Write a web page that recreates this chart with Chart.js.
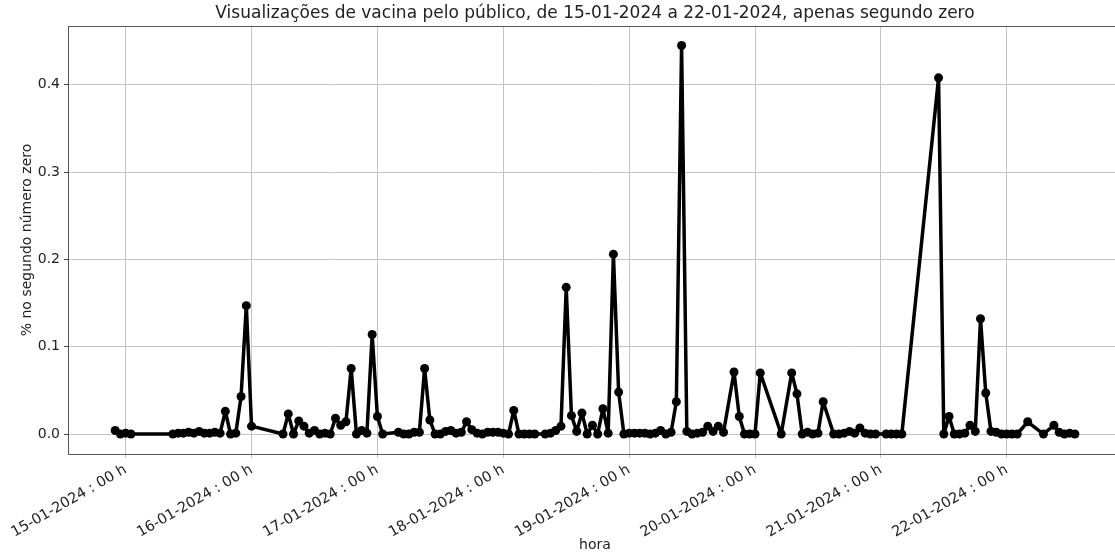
<!DOCTYPE html>
<html>
<head>
<meta charset="utf-8">
<script src="https://cdn.jsdelivr.net/npm/chart.js@4"></script>
<style>
  html, body { margin: 0; padding: 0; background: #fff; overflow: hidden; }
  #wrap { width: 1115px; height: 554px; overflow: hidden; }
</style>
</head>
<body>
<div id="wrap"><canvas id="grafico" width="1120" height="554"></canvas></div>
<script>
// horas contadas a partir de 15-01-2024 00h
const horas = [
  -2, -1, 0, 1,
  9, 10, 11, 12, 13, 14, 15, 16, 17, 18, 19, 20, 21, 22, 23, 24,
  30, 31, 32, 33, 34, 35, 36, 37, 38, 39, 40, 41, 42, 43, 44, 45, 46, 47, 48, 49,
  52, 53, 54, 55, 56, 57, 58, 59, 60, 61, 62, 63, 64, 65, 66, 67, 68, 69, 70, 71, 72, 73, 74, 75, 76, 77, 78,
  80, 81, 82, 83, 84, 85, 86, 87, 88, 89, 90, 91, 92, 93, 94, 95, 96, 97, 98, 99, 100, 101, 102, 103, 104, 105,
  106, 107, 108, 109, 110, 111, 112, 113, 114,
  116, 117, 118, 119, 120, 121,
  125, 127, 128, 129, 130, 131, 132, 133,
  135, 136, 137, 138, 139, 140, 141, 142, 143,
  145, 146, 147, 148,
  155, 156, 157, 158, 159, 160, 161, 162, 163, 164, 165, 166, 167, 168, 169, 170,
  172, 175, 177, 178, 179, 180, 181
];
const valores = [
  0.004, 0.000, 0.001, 0.000,
  0.000, 0.001, 0.001, 0.002, 0.001, 0.003, 0.001, 0.001, 0.002, 0.001, 0.026, 0.000, 0.001, 0.043, 0.147, 0.009,
  0.000, 0.023, 0.000, 0.015, 0.009, 0.001, 0.004, 0.000, 0.001, 0.000, 0.018, 0.010, 0.014, 0.075, 0.000, 0.004, 0.001, 0.114, 0.020, 0.000,
  0.002, 0.000, 0.000, 0.002, 0.002, 0.075, 0.016, 0.000, 0.000, 0.003, 0.004, 0.001, 0.002, 0.014, 0.005, 0.001, 0.000, 0.002, 0.002, 0.002, 0.001, 0.000, 0.027, 0.000, 0.000, 0.000, 0.000,
  0.000, 0.001, 0.004, 0.009, 0.168, 0.021, 0.003, 0.024, 0.000, 0.010, 0.000, 0.029, 0.001, 0.206, 0.048, 0.000, 0.001, 0.001, 0.001, 0.001, 0.000, 0.001, 0.004, 0.000, 0.002, 0.037,
  0.445, 0.003, 0.000, 0.001, 0.002, 0.009, 0.003, 0.009, 0.002,
  0.071, 0.020, 0.000, 0.000, 0.000, 0.070,
  0.000, 0.070, 0.046, 0.000, 0.002, 0.000, 0.001, 0.037,
  0.000, 0.000, 0.001, 0.003, 0.001, 0.007, 0.001, 0.000, 0.000,
  0.000, 0.000, 0.000, 0.000,
  0.408, 0.000, 0.020, 0.000, 0.000, 0.001, 0.010, 0.003, 0.132, 0.047, 0.003, 0.002, 0.000, 0.000, 0.000, 0.000,
  0.014, 0.000, 0.010, 0.002, 0.000, 0.001, 0.000
];

const ticksX = [0, 24, 48, 72, 96, 120, 144, 168];
const rotulosX = [
  "15-01-2024 : 00 h", "16-01-2024 : 00 h", "17-01-2024 : 00 h", "18-01-2024 : 00 h",
  "19-01-2024 : 00 h", "20-01-2024 : 00 h", "21-01-2024 : 00 h", "22-01-2024 : 00 h"
];
const ticksY = [0, 0.1, 0.2, 0.3, 0.4];

const titulo = "Visualizações de vacina pelo público, de 15-01-2024 a 22-01-2024, apenas segundo zero";
const tituloX = "hora";
const tituloY = "% no segundo número zero";

const fonte = "'DejaVu Sans', sans-serif";

// titulo, rotulos dos eixos e a borda de cima
const textos = {
  id: "textos",
  afterDraw(chart) {
    const { ctx, chartArea: a } = chart;
    ctx.save();
    ctx.strokeStyle = "#555";
    ctx.lineWidth = 1;
    ctx.beginPath();
    ctx.moveTo(a.left, a.top + 0.5);
    ctx.lineTo(a.right, a.top + 0.5);
    ctx.stroke();

    ctx.fillStyle = "#222";
    ctx.textAlign = "center";
    ctx.textBaseline = "middle";
    ctx.font = "17px " + fonte;
    ctx.fillText(titulo, 595, 14);
    ctx.font = "14px " + fonte;
    ctx.fillText(tituloX, 595, 545);
    ctx.translate(27, (a.top + a.bottom) / 2);
    ctx.rotate(-Math.PI / 2);
    ctx.fillText(tituloY, 0, 0);
    ctx.restore();
  }
};

new Chart(document.getElementById("grafico"), {
  type: "line",
  data: {
    datasets: [{
      data: horas.map((h, i) => ({ x: h, y: valores[i] })),
      borderColor: "#000",
      backgroundColor: "#000",
      borderWidth: 3.5,
      borderJoinStyle: "round",
      pointRadius: 4.5,
      pointBorderWidth: 0,
      pointBackgroundColor: "#000",
      tension: 0
    }]
  },
  options: {
    responsive: false,
    animation: false,
    devicePixelRatio: 1,
    layout: { padding: { top: 26 } },
    plugins: {
      legend: { display: false },
      tooltip: { enabled: false }
    },
    scales: {
      x: {
        type: "linear",
        min: -11.0,
        max: 188.74,
        afterBuildTicks: s => { s.ticks = ticksX.map(v => ({ value: v })); },
        afterFit: s => { s.height = 100; },
        grid: { color: "#c4c4c4", lineWidth: 1, tickLength: 4, tickColor: "#c4c4c4" },
        border: { color: "#555", width: 1 },
        ticks: {
          autoSkip: false,
          minRotation: 30,
          maxRotation: 30,
          padding: 3,
          color: "#222",
          font: { family: fonte, size: 14.5 },
          callback: v => rotulosX[ticksX.indexOf(v)]
        }
      },
      y: {
        min: -0.0229,
        max: 0.4674,
        afterBuildTicks: s => { s.ticks = ticksY.map(v => ({ value: v })); },
        afterFit: s => { s.width = 68; },
        grid: { color: "#c4c4c4", lineWidth: 1, tickLength: 4, tickColor: "#444" },
        border: { color: "#555", width: 1 },
        ticks: {
          padding: 4,
          color: "#222",
          font: { family: fonte, size: 14 },
          callback: v => v.toFixed(1)
        }
      }
    }
  },
  plugins: [textos]
});
</script>
</body>
</html>
